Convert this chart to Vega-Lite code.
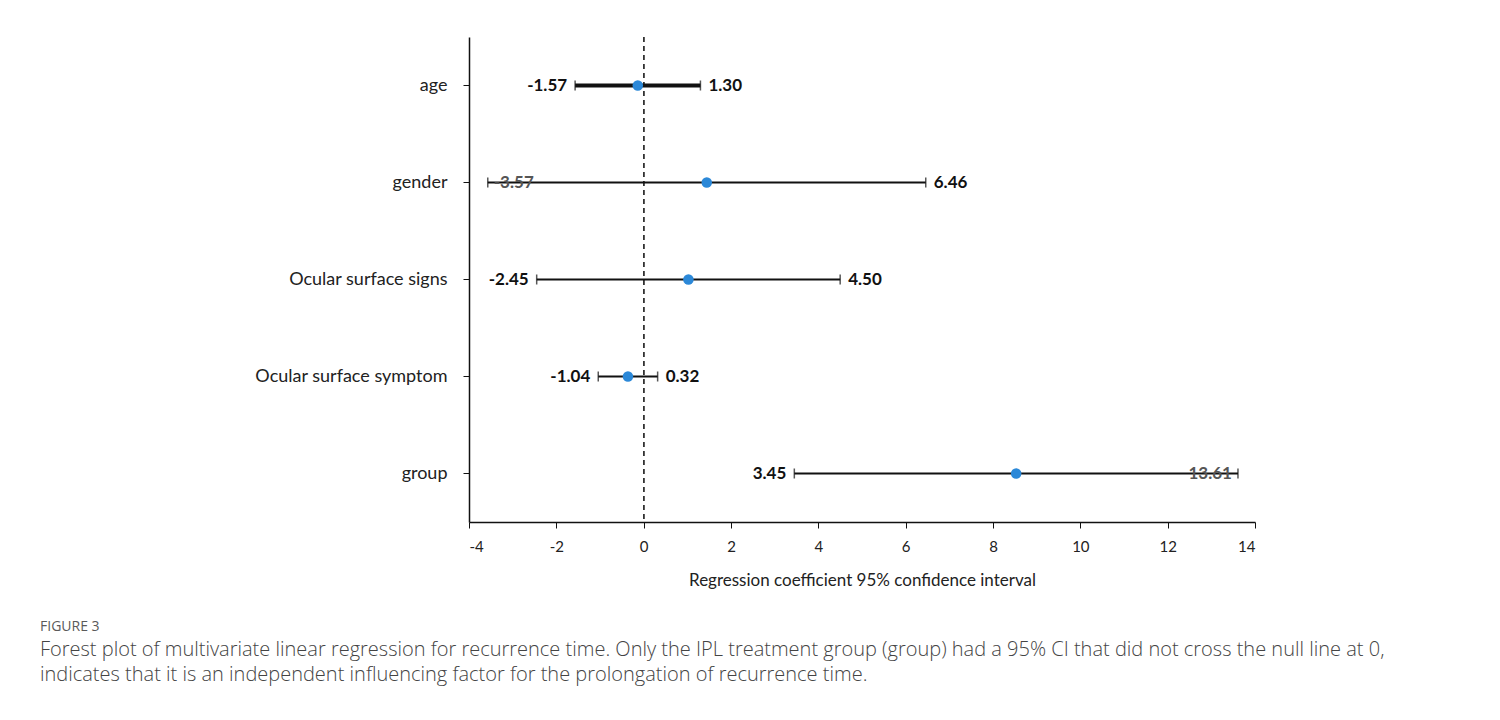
{
  "$schema": "https://vega.github.io/schema/vega-lite/v6.json",
  "autosize": {"type": "none"},
  "width": 786,
  "height": 485,
  "padding": {"left": 469, "top": 37, "right": 245, "bottom": 198},
  "background": "white",
  "config": {
    "view": {"stroke": null},
    "font": "Lato",
    "locale": {"number": {"decimal": ".", "thousands": ",", "grouping": [3], "currency": ["$", ""], "minus": "-"}},
    "axis": {"grid": false, "domainColor": "#111", "tickColor": "#111", "labelColor": "#222", "titleColor": "#222"}
  },
  "title": {
    "text": "FIGURE 3",
    "subtitle": [
      "Forest plot of multivariate linear regression for recurrence time. Only the IPL treatment group (group) had a 95% CI that did not cross the null line at 0,",
      "indicates that it is an independent influencing factor for the prolongation of recurrence time."
    ],
    "orient": "bottom",
    "anchor": "start",
    "frame": "group",
    "dx": -429,
    "offset": 32,
    "font": "Open Sans",
    "fontSize": 14,
    "fontWeight": "normal",
    "color": "#5a5a5a",
    "subtitleFont": "Open Sans",
    "subtitleFontSize": 20,
    "subtitleFontWeight": 300,
    "subtitleColor": "#444",
    "subtitleLineHeight": 25,
    "subtitlePadding": 6
  },
  "data": {
    "values": [
      {"term": "age", "estimate": -0.135, "ci_low": -1.57, "ci_high": 1.30},
      {"term": "gender", "estimate": 1.445, "ci_low": -3.57, "ci_high": 6.46},
      {"term": "Ocular surface signs", "estimate": 1.025, "ci_low": -2.45, "ci_high": 4.50},
      {"term": "Ocular surface symptom", "estimate": -0.36, "ci_low": -1.04, "ci_high": 0.32},
      {"term": "group", "estimate": 8.53, "ci_low": 3.45, "ci_high": 13.61}
    ]
  },
  "encoding": {
    "y": {
      "field": "term", "type": "nominal", "title": null,
      "scale": {"domain": ["age", "gender", "Ocular surface signs", "Ocular surface symptom", "group"], "paddingInner": 0, "paddingOuter": 0},
      "axis": {"labelFontSize": 18, "labelPadding": 16, "labelLimit": 0, "tickSize": 6, "labelColor": "#222", "domainWidth": 1.5}
    }
  },
  "layer": [
    {
      "mark": {"type": "rule", "strokeDash": [5, 4], "color": "#333", "strokeWidth": 1.2},
      "encoding": {
        "x": {"datum": 0, "type": "quantitative"},
        "y": null
      }
    },
    {
      "transform": [{"filter": "datum.term !== 'age'"}],
      "mark": {"type": "rule", "color": "#111", "strokeWidth": 2},
      "encoding": {
        "x": {
          "field": "ci_low", "type": "quantitative",
          "scale": {"domain": [-4, 14], "nice": false, "zero": false},
          "axis": {"values": [-4, -2, 0, 2, 4, 6, 8, 10, 12, 14], "labelFontSize": 15, "tickSize": 6, "labelPadding": 11, "domainWidth": 1.5,
                   "title": "Regression coefficient 95% confidence interval", "titleFontSize": 17, "titleFontWeight": "normal", "titlePadding": 18}
        },
        "x2": {"field": "ci_high"}
      }
    },
    {
      "transform": [{"filter": "datum.term === 'age'"}],
      "mark": {"type": "rule", "color": "#111", "strokeWidth": 4},
      "encoding": {
        "x": {"field": "ci_low", "type": "quantitative"},
        "x2": {"field": "ci_high"}
      }
    },
    {
      "mark": {"type": "tick", "orient": "vertical", "color": "#111", "size": 10, "thickness": 1.5},
      "encoding": {"x": {"field": "ci_low", "type": "quantitative"}}
    },
    {
      "mark": {"type": "tick", "orient": "vertical", "color": "#111", "size": 10, "thickness": 1.5},
      "encoding": {"x": {"field": "ci_high", "type": "quantitative"}}
    },
    {
      "mark": {"type": "circle", "color": "#2b88d8", "opacity": 1, "size": 110},
      "encoding": {"x": {"field": "estimate", "type": "quantitative"}}
    },
    {
      "transform": [{"filter": "datum.term !== 'gender'"}],
      "mark": {"type": "text", "align": "right", "baseline": "middle", "dx": -8, "fontSize": 17, "fontWeight": "bold", "color": "#111"},
      "encoding": {
        "x": {"field": "ci_low", "type": "quantitative"},
        "text": {"field": "ci_low", "type": "quantitative", "format": ".2f"}
      }
    },
    {
      "transform": [{"filter": "datum.term === 'gender'"}],
      "mark": {"type": "text", "align": "left", "baseline": "middle", "dx": 6, "fontSize": 17, "fontWeight": "bold", "color": "#555"},
      "encoding": {
        "x": {"field": "ci_low", "type": "quantitative"},
        "text": {"field": "ci_low", "type": "quantitative", "format": ".2f"}
      }
    },
    {
      "transform": [{"filter": "datum.term !== 'group'"}],
      "mark": {"type": "text", "align": "left", "baseline": "middle", "dx": 8, "fontSize": 17, "fontWeight": "bold", "color": "#111"},
      "encoding": {
        "x": {"field": "ci_high", "type": "quantitative"},
        "text": {"field": "ci_high", "type": "quantitative", "format": ".2f"}
      }
    },
    {
      "transform": [{"filter": "datum.term === 'group'"}],
      "mark": {"type": "text", "align": "right", "baseline": "middle", "dx": -6, "fontSize": 17, "fontWeight": "bold", "color": "#555"},
      "encoding": {
        "x": {"field": "ci_high", "type": "quantitative"},
        "text": {"field": "ci_high", "type": "quantitative", "format": ".2f"}
      }
    }
  ]
}
